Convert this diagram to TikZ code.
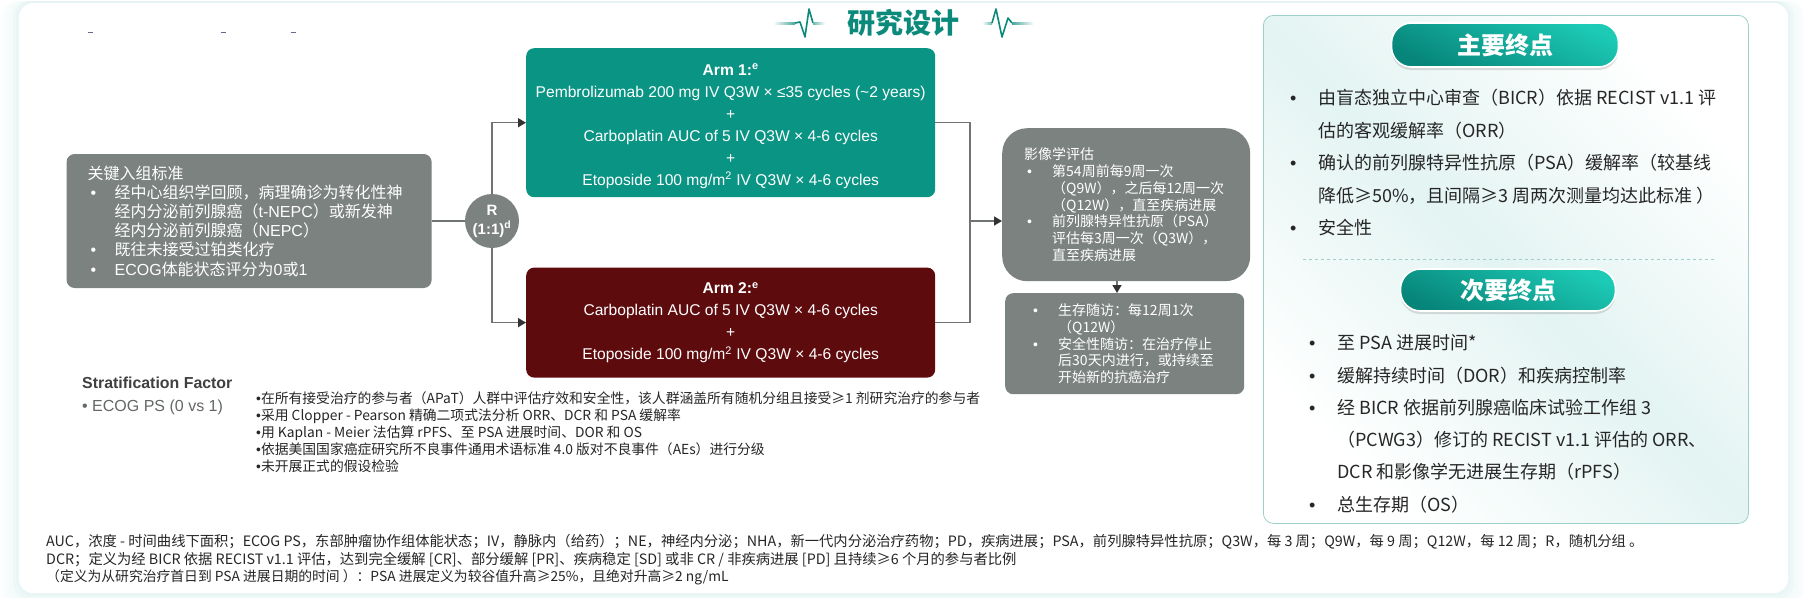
\documentclass[tikz,border=0pt]{standalone}
\usepackage{fontspec}
\usepackage{xcolor}
\setmainfont{Noto Sans CJK SC}
\newfontfamily\arial{Liberation Sans}
\usetikzlibrary{positioning}
\usetikzlibrary{arrows.meta}
\usetikzlibrary{shadows}
\definecolor{slate}{HTML}{7C8280}
\definecolor{armteal}{HTML}{0A9484}
\definecolor{armred}{HTML}{5E0B0E}
\definecolor{heart}{HTML}{0B8A7C}
\definecolor{mist}{HTML}{E3F4F2}
\definecolor{wire}{HTML}{6F7472}
\definecolor{pilltop}{HTML}{1CCAB5}
\definecolor{pilllow}{HTML}{07857A}
\newcommand{\bul}[1][24pt]{\makebox[#1][l]{{\arial •}}}
\newcommand{\fsz}[2]{\fontsize{#1}{#2}\selectfont}
\tikzstyle{graybox}=[draw=none, fill=slate, text=white, rounded corners=8pt, align=left, inner sep=0pt]
\tikzstyle{arm}=[rounded corners=8pt, minimum width=409pt, text=white, align=center, inner sep=0pt, font={\arial\fsz{15.6}{22}}]
\tikzstyle{pill}=[draw=white, line width=1.6pt, rounded corners=20pt, top color=pilltop, bottom color=pilllow, shading angle=-25, text=white, font={\bfseries\fsz{24}{26}}, drop shadow={opacity=0.25, shadow xshift=0pt, shadow yshift=-3pt}]
\tikzstyle{endpt}=[anchor=north west, inner sep=0pt, align=left, text=black!85]
\tikzstyle{note}=[anchor=west, inner sep=0pt, align=left, text=black!85, font=\fsz{13.8}{17}]
\tikzstyle{abbr}=[note, font=\fsz{14.3}{17}]
\tikzstyle{line}=[draw=wire, line width=1.4pt]
\tikzstyle{link}=[draw=wire, line width=1.4pt, -{Triangle[length=8pt, width=9pt, color=black!80]}]
\begin{document}
\begin{tikzpicture}[x=1pt, y=-1pt]
    \useasboundingbox (0,0) rectangle (1804,597);
    \foreach \grow/\tone in {18/10, 14/25, 10/40, 6/60, 3/80, 0/100}
        \fill[mist!\tone!white, rounded corners=16pt] (19-\grow,1) rectangle (1788+\grow,593+\grow);
    \fill[white, rounded corners=14pt] (19,3) rectangle (1788,593);

    \foreach \tick in {90, 223, 293}
        \draw[blue!25!black!60, line width=0.7pt] (\tick-2.5,32.5) -- (\tick+2.5,32.5);

    \node[text=heart, font=\bfseries\fsz{28}{30}] (title) at (903,23) {研究设计};
    \shade[left color=white, right color=heart!75] (773,22) rectangle (795,24);
    \draw[heart, line width=1.6pt, line join=round] (795,23) -- (800,22) -- (805,37) -- (809,9) -- (813,23);
    \shade[left color=heart!60, right color=white] (813,22) rectangle (825,24);
    \shade[left color=white, right color=heart!60] (982,22) rectangle (992,24);
    \draw[heart, line width=1.6pt, line join=round] (992,23) -- (996,9) -- (1002,37) -- (1008,18) -- (1012,23);
    \shade[left color=heart!75, right color=white] (1012,22) rectangle (1034,24);

    \node[circle, fill=slate, text=white, minimum size=54pt, inner sep=0pt, align=center, font={\arial\bfseries\fsz{15}{19}}] (random) at (492,221) {R\\(1:1)\textsuperscript{d}};
    \node[graybox, minimum width=365pt, minimum height=134pt, text width=323pt, font=\fsz{16}{19.2}] (inclusion) [left = 33pt of random] {关键入组标准\\
        \hspace*{3pt}\bul 经中心组织学回顾，病理确诊为转化性神\\
        \hspace*{27pt}经内分泌前列腺癌（{\arial t-NEPC}）或新发神\\
        \hspace*{27pt}经内分泌前列腺癌（{\arial NEPC}）\\
        \hspace*{3pt}\bul 既往未接受过铂类化疗\\
        \hspace*{3pt}\bul {\arial ECOG}体能状态评分为{\arial 0}或{\arial 1}};

    \node[arm, fill=armteal, minimum height=149pt, anchor=north west] (arm1) at (526,48) {\rule{0pt}{18pt}\textbf{Arm 1:\textsuperscript{e}}\\
        Pembrolizumab 200 mg IV Q3W × ≤35 cycles (\textasciitilde 2 years)\\+\\
        Carboplatin AUC of 5 IV Q3W × 4-6 cycles\\+\\
        Etoposide 100 mg/m\textsuperscript{2} IV Q3W × 4-6 cycles};
    \node[arm, fill=armred, minimum height=110pt] (arm2) [below = 70pt of arm1] {\textbf{Arm 2:\textsuperscript{e}}\\
        Carboplatin AUC of 5 IV Q3W × 4-6 cycles\\+\\
        Etoposide 100 mg/m\textsuperscript{2} IV Q3W × 4-6 cycles};

    \node[graybox, rounded corners=25pt, minimum width=248pt, minimum height=153pt, text width=204pt, font=\fsz{14}{16.8}, anchor=north west] (imaging) at (1002,128) {影像学评估\\
        \hspace*{3pt}\bul[25pt]第54周前每9周一次\\
        \hspace*{28pt}（Q9W），之后每12周一次\\
        \hspace*{28pt}（Q12W），直至疾病进展\\
        \hspace*{3pt}\bul[25pt]前列腺特异性抗原（PSA）\\
        \hspace*{28pt}评估每3周一次（Q3W），\\
        \hspace*{28pt}直至疾病进展};
    \node[graybox, minimum width=239pt, minimum height=101pt, text width=183pt, font=\fsz{14}{16.7}, anchor=north west] (followup) at (1005,293) {\bul[25pt]生存随访：每12周1次\\
        \hspace*{25pt}（Q12W）\\
        \bul[25pt]安全性随访：在治疗停止\\
        \hspace*{25pt}后30天内进行，或持续至\\
        \hspace*{25pt}开始新的抗癌治疗};

    \coordinate (merge)  at (970,221);
    \coordinate (arrive) at (1002,221);
    \coordinate (drop)   at (1117,281);
    \coordinate (land)   at (1117,293);

    \draw[line] (inclusion) -- (random);
    \draw[link] (random) |- (arm1);
    \draw[link] (random) |- (arm2);
    \draw[line] (arm1) -| (merge);
    \draw[line] (arm2) -| (merge);
    \draw[link] (merge) -- (arrive);
    \draw[link] (drop) -- (land);

    \node[anchor=west, inner sep=0pt, text=black!75, font={\arial\bfseries\fsz{15.9}{18}}] (strat) at (82,383) {Stratification Factor};
    \node[anchor=west, inner sep=0pt, text=slate!80!black, font={\arial\fsz{16}{18}}] (stratitem) at (82,407) {• ECOG PS (0 vs 1)};

    \node[note] (method1) at (256,398) {{\arial •}在所有接受治疗的参与者（APaT）人群中评估疗效和安全性，该人群涵盖所有随机分组且接受≥1 剂研究治疗的参与者};
    \node[note] (method2) at (256,416) {{\arial •}采用 Clopper - Pearson 精确二项式法分析 ORR、DCR 和 PSA 缓解率};
    \node[note] (method3) at (256,433) {{\arial •}用 Kaplan - Meier 法估算 rPFS、至 PSA 进展时间、DOR 和 OS};
    \node[note] (method4) at (256,449) {{\arial •}依据美国国家癌症研究所不良事件通用术语标准 4.0 版对不良事件（AEs）进行分级};
    \node[note] (method5) at (256,466) {{\arial •}未开展正式的假设检验};

    \node[abbr] (abbr1) at (46,542) {AUC，浓度 - 时间曲线下面积；ECOG PS，东部肿瘤协作组体能状态；IV，静脉内（给药）；NE，神经内分泌；NHA，新一代内分泌治疗药物；PD，疾病进展；PSA，前列腺特异性抗原；Q3W，每 3 周；Q9W，每 9 周；Q12W，每 12 周；R，随机分组 。};
    \node[abbr] (abbr2) at (46,560) {DCR；定义为经 BICR 依据 RECIST v1.1 评估，达到完全缓解 [CR]、部分缓解 [PR]、疾病稳定 [SD] 或非 CR / 非疾病进展 [PD] 且持续≥6 个月的参与者比例};
    \node[note] (abbr3) at (46,577) {（定义为从研究治疗首日到 PSA 进展日期的时间 ）：PSA 进展定义为较谷值升高≥25\%，且绝对升高≥2 ng/mL};

    \node[draw=heart!40, line width=0.8pt, rounded corners=10pt, minimum width=485pt, minimum height=508pt, top color=white, bottom color=white, middle color=mist, shading angle=-45, anchor=north west] (panel) at (1263,15) {};
    \node[pill, minimum width=227pt, minimum height=44pt] (primary) at (1505,45) {主要终点};
    \node[pill, minimum width=215pt, minimum height=42pt] (secondary) at (1508,290) {次要终点};
    \coordinate (sepl) at (1303,259);
    \coordinate (sepr) at (1716,259);
    \draw[heart!40, dashed, line width=0.7pt] (sepl) -- (sepr);

    \node[endpt, font=\fsz{18}{32.5}] (primlist) at (1290,89) {\bul[28pt]由盲态独立中心审查（BICR）依据 RECIST v1.1 评\\
        \hspace*{28pt}估的客观缓解率（ORR）\\
        \bul[28pt]确认的前列腺特异性抗原（PSA）缓解率（较基线\\
        \hspace*{28pt}降低≥50\%，且间隔≥3 周两次测量均达此标准 ）\\
        \bul[28pt]安全性};
    \node[endpt, font=\fsz{18}{32.3}] (seclist) at (1309,334.5) {\bul[28pt]至 PSA 进展时间*\\
        \bul[28pt]缓解持续时间（DOR）和疾病控制率\\
        \bul[28pt]经 BICR 依据前列腺癌临床试验工作组 3\\
        \hspace*{28pt}（PCWG3）修订的 RECIST v1.1 评估的 ORR、\\
        \hspace*{28pt}DCR 和影像学无进展生存期（rPFS）\\
        \bul[28pt]总生存期（OS）};
\end{tikzpicture}
\end{document}
